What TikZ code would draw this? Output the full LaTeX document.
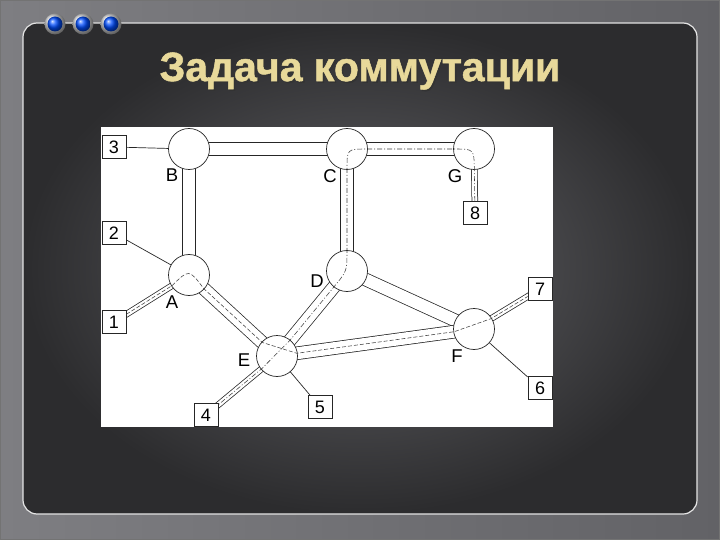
\documentclass[tikz,border=0pt]{standalone}
\usepackage{fontspec}
\setmainfont{Liberation Sans}
\newfontfamily\titlefont{Liberation Sans Bold}[FakeBold=1.2]
\newfontfamily\lblfont{Liberation Sans}
\usetikzlibrary{calc,shadings}
\pgfdeclarelayer{bg}\pgfdeclarelayer{chan}\pgfdeclarelayer{top}
\pgfsetlayers{bg,chan,main,top}
\definecolor{frameL}{HTML}{7E7E82}
\definecolor{frameR}{HTML}{626266}
\definecolor{panelIn}{HTML}{656569}
\definecolor{panelOut}{HTML}{2C2C2E}
\definecolor{titlecol}{HTML}{E8D99A}
\begin{document}
\begin{tikzpicture}[x=1pt,y=-1pt,
  hub/.style={circle, draw=black!85, fill=white, line width=0.7pt, minimum size=41pt, inner sep=0pt},
  term/.style={draw=black!85, fill=white, line width=0.7pt, minimum width=24pt, minimum height=23pt, inner sep=0pt, font=\lblfont\fontsize{18}{18}\selectfont},
  lbl/.style={font=\lblfont\fontsize{18.5}{18.5}\selectfont, inner sep=0pt},
  trunk/.style={draw=black!85, line width=0.75pt, double=white, double distance=12pt},
  feed/.style={draw=black!85, line width=0.75pt, double=white, double distance=5pt},
  wire/.style={draw=black!85, line width=0.7pt},
  dashroute/.style={black!75, line width=0.55pt, dash pattern=on 4pt off 2pt},
  dotroute/.style={black!75, line width=0.55pt, dash pattern=on 5pt off 2pt on 1pt off 2pt}]
\useasboundingbox (0,0) rectangle (720,540);
\begin{pgfonlayer}{bg}
  \shade[left color=frameL, right color=frameR] (0,0) rectangle (720,540);
  \draw[black!55, line width=1pt] (0.5,0.5) rectangle (719.5,539.5);
  \shade[rounded corners=14pt, inner color=panelIn, outer color=panelOut] (23,23) rectangle (697,514);
  \draw[rounded corners=14pt, white!80!gray, line width=1.2pt] (23,23) rectangle (697,514);
  \fill[white] (101,127) rectangle (553,427);
  \foreach \x in {55,83,111} {
    \shade[ball color=gray!25] (\x,24) circle (10.5);
    \shade[ball color=blue!70!cyan] (\x,24) circle (7.5);
  }
\end{pgfonlayer}

% title
\node[font=\titlefont\fontsize{41}{41}\selectfont, text=black!80] (tsh) at (361.5,72.5) {Задача коммутации};
\node[font=\titlefont\fontsize{41}{41}\selectfont, text=titlecol] (title) at (360,71) {Задача коммутации};

% hubs
\node[hub] (B) at (189,149) {};
\node[hub] (C) at (347,149) {};
\node[hub] (G) at (474,149) {};
\node[hub] (A) at (189,275) {};
\node[hub] (D) at (347,271) {};
\node[hub] (E) at (277,356) {};
\node[hub] (F) at (474,329) {};

% terminals
\node[term] (n3) at (114,147) {3};
\node[term] (n2) at (114,233) {2};
\node[term] (n1) at (114,322) {1};
\node[term] (n8) at (475,213) {8};
\node[term] (n4) at (206,415) {4};
\node[term] (n5) at (320,407) {5};
\node[term] (n7) at (540,289) {7};
\node[term] (n6) at (540,388) {6};

% labels
\node[lbl] (lB) at (172,175) {B};
\node[lbl] (lC) at (330,176) {C};
\node[lbl] (lG) at (455,176) {G};
\node[lbl] (lD) at (317,281) {D};
\node[lbl] (lA) at (172,302) {A};
\node[lbl] (lE) at (244,360) {E};
\node[lbl] (lF) at (457,356) {F};

% channels
\begin{pgfonlayer}{chan}
  \draw[trunk] (B.center) -- (C.center);
  \draw[trunk] (C.center) -- (G.center);
  \draw[trunk] (B.center) -- (A.center);
  \draw[trunk] (C.center) -- (D.center);
  \draw[trunk] (A.center) -- (E.center);
  \draw[trunk] (D.center) -- (E.center);
  \draw[trunk] (D.center) -- (F.center);
  \draw[trunk] (E.center) -- (F.center);
  \draw[feed] (A.center) -- (n1.center);
  \draw[feed] (G.center) -- (n8.center);
  \draw[feed] (E.center) -- (n4.center);
  \draw[feed] (F.center) -- (n7.center);
\end{pgfonlayer}

% single wires
\draw[wire] (n3) -- (B);
\draw[wire] (n2) -- (A);
\draw[wire] (E) -- (n5);
\draw[wire] (F) -- (n6);

% routes
\begin{pgfonlayer}{top}
  \draw[dashroute] (n1) -- ($(A)!20pt!(n1)$) .. controls ($(A)+(0,-6)$) .. ($(A)!20pt!(E)$)
     -- ($(E)!20pt!(A)$) -- ($(E)!20pt!(F)$) -- ($(F)!20pt!(E)$) -- ($(F)!20pt!(n7)$) -- (n7);
  \draw[dotroute] (n8) -- ($(G)!20pt!(n8)$) .. controls (G.center) .. ($(G)!20pt!(C)$)
     -- ($(C)!20pt!(G)$) .. controls (C.center) .. ($(C)!20pt!(D)$)
     -- ($(D)!20pt!(C)$) .. controls (D.center) .. ($(D)!20pt!(E)$)
     -- ($(E)!20pt!(D)$) -- ($(E)!20pt!(n4)$) -- (n4);
\end{pgfonlayer}
\end{tikzpicture}
\end{document}
